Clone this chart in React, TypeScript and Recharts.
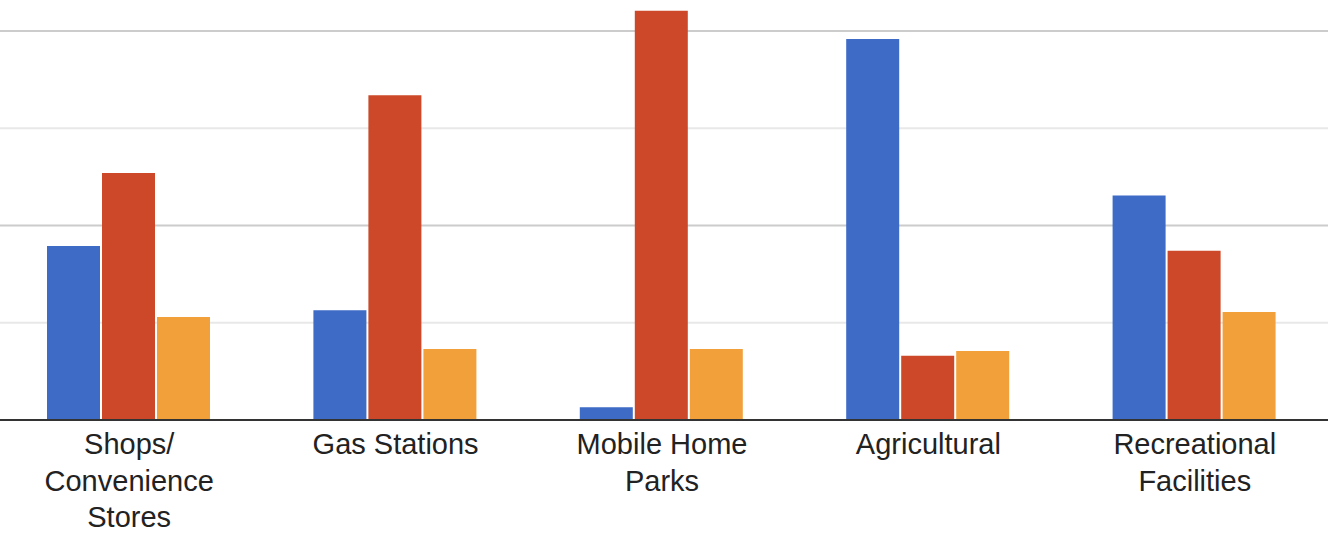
import { Bar, BarChart, XAxis, YAxis, CartesianGrid } from "recharts"

const categories = [
    "Shops/\nConvenience\nStores",
    "Gas Stations",
    "Mobile Home\nParks",
    "Agricultural",
    "Recreational\nFacilities",
]
const blueValues = [1.79, 1.13, 0.13, 3.92, 2.31]
const redValues = [2.54, 3.34, 4.21, 0.66, 1.74]
const orangeValues = [1.06, 0.73, 0.73, 0.71, 1.11]
const majorGrid = [2, 4]
const minorGrid = [1, 3]

const data = categories.map((name, i) => ({
    name,
    blue: blueValues[i],
    red: redValues[i],
    orange: orangeValues[i],
}))

function CategoryTick(props: any) {
    const { x, y, payload } = props
    const lines = String(payload.value).split("\n")
    return (
        <text
            x={x}
            y={y + 34}
            textAnchor="middle"
            fill="#222"
            fontSize={29}
            fontFamily="'Liberation Sans', Arial, sans-serif"
        >
            {lines.map((line, i) => (
                <tspan key={i} x={x} dy={i === 0 ? 0 : 36.5}>
                    {line}
                </tspan>
            ))}
        </text>
    )
}

export default function App() {
    return (
        <div style={{ position: "absolute", left: -4, top: 0, background: "#fff" }}>
            <BarChart
                width={1339}
                height={535}
                data={data}
                margin={{ top: 0, right: 7, left: 0, bottom: 0 }}
                barCategoryGap={51}
                barGap={2}
            >
                <CartesianGrid vertical={false} horizontalValues={minorGrid} stroke="#e8e8e8" strokeWidth={2} />
                <CartesianGrid vertical={false} horizontalValues={majorGrid} stroke="#cccccc" strokeWidth={2} />
                <XAxis
                    dataKey="name"
                    height={115}
                    interval={0}
                    tickLine={false}
                    tickSize={0}
                    tickMargin={0}
                    axisLine={{ stroke: "#333", strokeWidth: 2 }}
                    tick={<CategoryTick />}
                />
                <YAxis hide domain={[0, 4.32]} allowDataOverflow />
                <Bar dataKey="blue" fill="#3d6bc6" isAnimationActive={false} />
                <Bar dataKey="red" fill="#cc4828" isAnimationActive={false} />
                <Bar dataKey="orange" fill="#f2a03a" isAnimationActive={false} />
            </BarChart>
        </div>
    )
}
